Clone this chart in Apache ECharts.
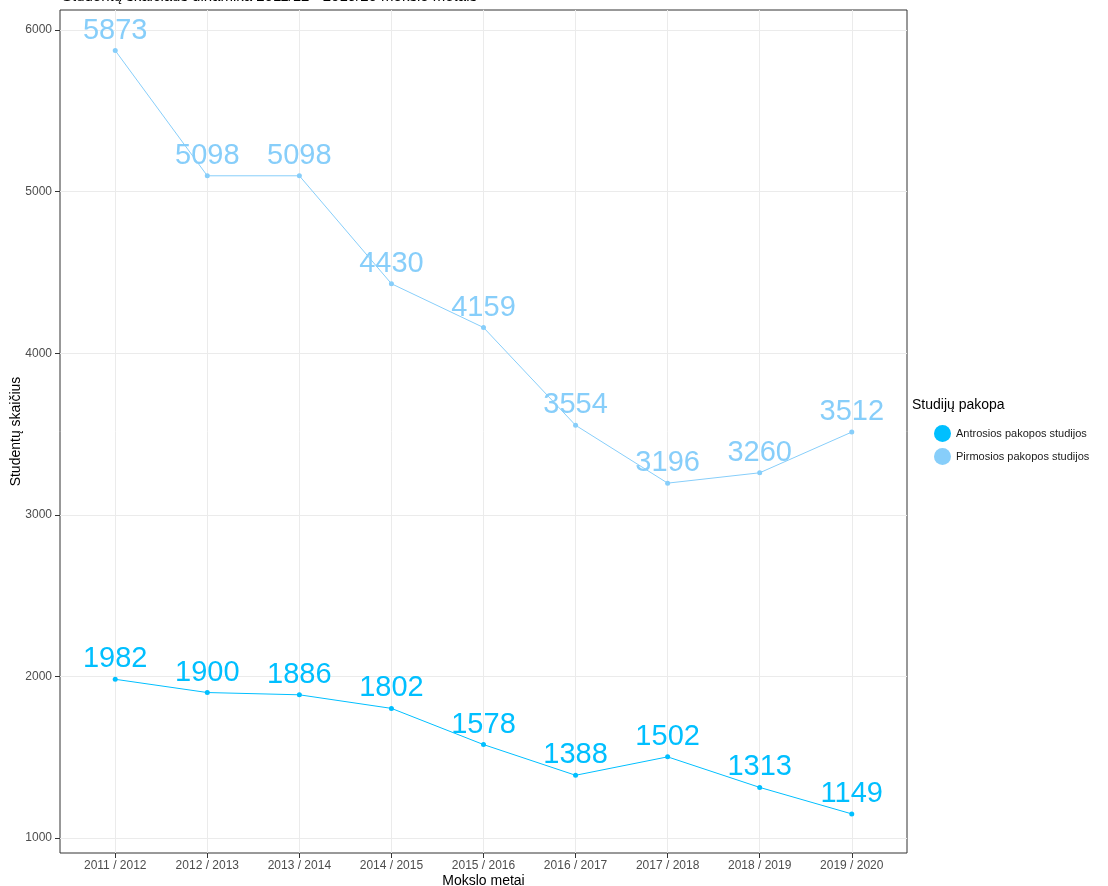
<!DOCTYPE html>
<html>
<head>
<meta charset="utf-8">
<script src="https://cdn.jsdelivr.net/npm/echarts@6/dist/echarts.min.js"></script>
<style>
html,body{margin:0;padding:0;background:#fff;}
#chart{width:1108px;height:886px;}
</style>
</head>
<body>
<div id="chart"></div>
<script>
const categories = ['2011 / 2012','2012 / 2013','2013 / 2014','2014 / 2015','2015 / 2016','2016 / 2017','2017 / 2018','2018 / 2019','2019 / 2020'];
const antrosios = [1982,1900,1886,1802,1578,1388,1502,1313,1149];
const pirmosios = [5873,5098,5098,4430,4159,3554,3196,3260,3512];
const yTicks = [1000,2000,3000,4000,5000,6000];
const yGrid = [1000,1500,2000,2500,3000,3500,4000,4500,5000,5500,6000];
const seriesNames = ['Antrosios pakopos studijos','Pirmosios pakopos studijos'];
const colors = ['#00BFFF','#87CEFA'];
const xPos = categories.map((c,i)=>i+1);

const chart = echarts.init(document.getElementById('chart'));
function mk(name, vals, color){
  return {
    name: name,
    type: 'line',
    data: vals.map((v,i)=>[i+1, v]),
    symbol: 'circle',
    symbolSize: 5,
    itemStyle: {color: color},
    lineStyle: {color: color, width: 1},
    label: {show: true, position: 'top', distance: 3, color: color,
      fontSize: 29, fontFamily: 'Liberation Sans, Arial, sans-serif'},
    emphasis: {disabled: true},
    animation: false
  };
}
chart.setOption({
  animation: false,
  title: {text: 'Studentų skaičiaus dinamika 2011/12 - 2019/20 mokslo metais', left: 62, top: -11, padding: 0,
    textStyle: {fontSize: 15, fontWeight: 'normal', color: '#000', fontFamily: 'Liberation Sans, Arial, sans-serif'}},
  legend: {
    orient: 'vertical', left: 929, top: 420, itemWidth: 17, itemHeight: 17, itemGap: 6,
    icon: 'circle', data: seriesNames,
    textStyle: {fontSize: 11, color: '#1a1a1a', fontFamily: 'Liberation Sans, Arial, sans-serif', padding: [0,0,0,0]},
    selectedMode: false
  },
  graphic: [{type: 'text', left: 912, top: 398, style: {text: 'Studijų pakopa', fontSize: 14, fill: '#000', fontFamily: 'Liberation Sans, Arial, sans-serif'}}],
  grid: {left: 60, right: 201, top: 10, bottom: 33, show: true, borderColor: '#333', borderWidth: 1,
    backgroundColor: 'transparent', containLabel: false, outerBoundsMode: 'none'},
  xAxis: {
    type: 'value', min: 0.4, max: 9.6,
    name: 'Mokslo metai', nameLocation: 'middle', nameGap: 21, nameMoveOverlap: false,
    nameTextStyle: {fontSize: 14, color: '#000', fontFamily: 'Liberation Sans, Arial, sans-serif', verticalAlign: 'top'},
    axisLine: {show: false},
    axisTick: {show: true, length: 5, lineStyle: {color: '#333'}, customValues: xPos},
    axisLabel: {customValues: xPos, color: '#4d4d4d', fontSize: 12, margin: 7,
      fontFamily: 'Liberation Sans, Arial, sans-serif', formatter: v => categories[Math.round(v)-1] || ''},
    splitLine: {show: true, lineStyle: {color: '#ebebeb', width: 1}, customValues: xPos}
  },
  yAxis: {
    type: 'value', min: 907, max: 6124,
    name: 'Studentų skaičius', nameLocation: 'middle', nameGap: 37, nameRotate: 90, nameMoveOverlap: false,
    nameTextStyle: {fontSize: 14, color: '#000', fontFamily: 'Liberation Sans, Arial, sans-serif'},
    axisLine: {show: false},
    axisTick: {show: true, length: 5, lineStyle: {color: '#333'}, customValues: yTicks},
    axisLabel: {customValues: yTicks, color: '#4d4d4d', fontSize: 12, margin: 8,
      fontFamily: 'Liberation Sans, Arial, sans-serif', formatter: v => String(v)},
    splitLine: {show: true, lineStyle: {color: '#ebebeb', width: 1}, customValues: yGrid}
  },
  series: [mk(seriesNames[0], antrosios, colors[0]), mk(seriesNames[1], pirmosios, colors[1])]
});
</script>
</body>
</html>
